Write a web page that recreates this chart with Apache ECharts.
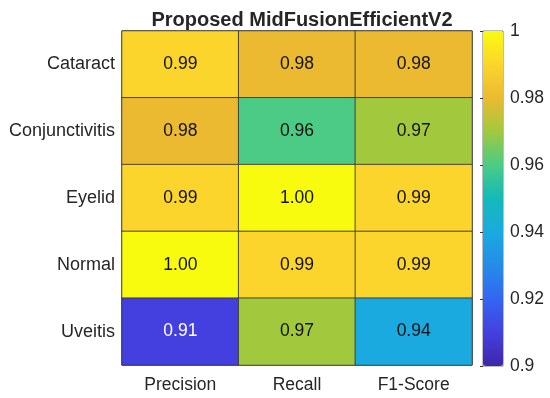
<!DOCTYPE html>
<html>
<head>
<meta charset="utf-8">
<script src="https://cdn.jsdelivr.net/npm/echarts@6/dist/echarts.min.js"></script>
<style>html,body{margin:0;padding:0;background:#fff;}#c{width:550px;height:398px;}</style>
</head>
<body>
<div id="c"></div>
<script>
const classes = ['Cataract', 'Conjunctivitis', 'Eyelid', 'Normal', 'Uveitis'];
const metrics = ['Precision', 'Recall', 'F1-Score'];
const precision = [0.99, 0.98, 0.99, 1.00, 0.91];
const recall = [0.98, 0.96, 1.00, 0.99, 0.97];
const f1score = [0.98, 0.97, 0.99, 0.99, 0.94];
const colorTicks = [0.9, 0.92, 0.94, 0.96, 0.98, 1];

const cols = [precision, recall, f1score];
const data = [];
cols.forEach((arr, x) => arr.forEach((v, y) => data.push({
  value: [x, y, v],
  label: { color: v < 0.93 ? '#fff' : '#111' }
})));

const parula = ['#3E26A8', '#4440E0', '#3366F2', '#258CE8', '#1AAADF', '#14BAB8',
  '#4BCB86', '#A2C93E', '#EBBA30', '#FBD52C', '#F9FB0E'];
const font = 'Liberation Sans, Arial, sans-serif';

const chart = echarts.init(document.getElementById('c'));
chart.setOption({
  animation: false,
  backgroundColor: '#fff',
  title: {
    text: 'Proposed MidFusionEfficientV2',
    left: 297, textAlign: 'center', top: 5,
    textStyle: { fontFamily: font, fontSize: 20, fontWeight: 'bold', color: '#262626' }
  },
  grid: [
    { left: 122, top: 31, width: 350, height: 334, show: true, borderColor: '#3a3a3a', borderWidth: 1, backgroundColor: 'transparent' },
    { left: 483, top: 31, width: 20, height: 335, show: true, borderColor: '#7a7a7a', borderWidth: 1, backgroundColor: 'transparent' }
  ],
  xAxis: [
    { type: 'category', data: metrics, gridIndex: 0, axisLine: { show: false }, axisTick: { show: false },
      axisLabel: { fontFamily: font, fontSize: 17.5, color: '#262626', margin: 11 } },
    { type: 'value', gridIndex: 1, show: false, min: 0, max: 1 }
  ],
  yAxis: [
    { type: 'category', data: classes, inverse: true, gridIndex: 0, axisLine: { show: false }, axisTick: { show: false },
      axisLabel: { fontFamily: font, fontSize: 18, color: '#262626', margin: 7 } },
    { type: 'value', gridIndex: 1, position: 'right', min: colorTicks[0], max: colorTicks[colorTicks.length - 1], interval: 0.02,
      axisLine: { show: false }, splitLine: { show: false },
      axisTick: { show: true, inside: true, length: 3, lineStyle: { color: '#333' } },
      axisLabel: { fontFamily: font, fontSize: 17.5, color: '#262626', margin: 7,
        formatter: v => String(+v.toFixed(2)) } }
  ],
  visualMap: {
    type: 'continuous', min: 0.9, max: 1, seriesIndex: 0, calculable: false,
    orient: 'vertical', left: 483, top: 31, itemWidth: 20, itemHeight: 335, padding: 0,
    text: null, showLabel: false,
    inRange: { color: parula }
  },
  series: [{
    type: 'heatmap', xAxisIndex: 0, yAxisIndex: 0, data: data,
    itemStyle: { borderColor: 'rgba(50,50,50,0.85)', borderWidth: 1 },
    label: {
      show: true, fontFamily: font, fontSize: 17.5,
      formatter: p => p.value[2].toFixed(2)
    },
    emphasis: { disabled: true }
  }]
});
</script>
</body>
</html>
